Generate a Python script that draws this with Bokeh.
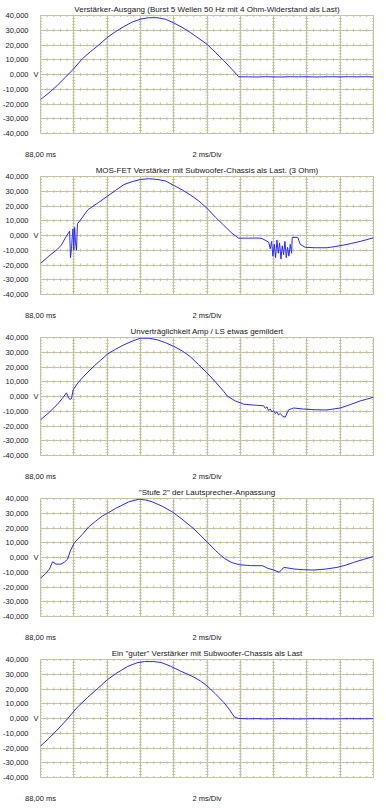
import math
from bokeh.plotting import figure
from bokeh.layouts import column
from bokeh.models import Range1d, FixedTicker, LinearAxis, Grid
from bokeh.embed import file_html
from bokeh.resources import INLINE

titles = [
    "Verstärker-Ausgang (Burst 5 Wellen 50 Hz mit 4 Ohm-Widerstand als Last)",
    "MOS-FET Verstärker mit Subwoofer-Chassis als Last. (3 Ohm)",
    "Unverträglichkeit Amp / LS etwas gemildert",
    "\"Stufe 2\" der Lautsprecher-Anpassung",
    "Ein \"guter\" Verstärker mit Subwoofer-Chassis als Last",
]

y_ticks = [-40000, -30000, -20000, -10000, 0, 10000, 20000, 30000, 40000]
y_tick_labels = ["-40,000", "-30,000", "-20,000", "-10,000", "0,000", "10,000", "20,000", "30,000", "40,000"]
x_grid = [88, 90, 92, 94, 96, 98, 100, 102, 104, 106, 108]
x_label_ticks = [88, 98]
x_label_texts = ["88,00 ms", "2 ms/Div"]
unit_tick = [0]
unit_label = "V"

# Panel 1
t1 = [88.0, 88.5, 89.0, 89.5, 90.0, 90.5, 91.0, 91.5, 92.0, 92.5, 93.0, 93.5, 94.0, 94.5,
      95.0, 95.5, 96.0, 96.5, 97.0, 97.5, 98.0, 98.5, 99.0, 99.5, 99.9,
      100.5, 101.0, 101.5, 102.0, 102.5, 103.0, 103.5, 104.0, 104.5, 105.0, 105.5,
      106.0, 106.5, 107.0, 107.5, 108.0]
v1 = [-17000, -12500, -7500, -1800, 4000, 10500, 15500, 20000, 25000, 29000, 32500, 35500, 37500, 38500,
      38500, 37500, 35000, 32000, 28500, 24500, 20500, 15000, 9500, 3500, -1500,
      -1600, -1700, -1500, -1600, -1700, -1500, -1600, -1500, -1700, -1600, -1500,
      -1600, -1500, -1600, -1500, -1600]

# Panel 2
t2 = [88.0, 88.5, 89.0, 89.25, 89.5, 89.75, 89.8, 89.86, 89.9, 89.95, 90.0, 90.05, 90.1, 90.16,
      90.22, 90.4, 90.85, 91.5, 92.0, 92.5, 93.0, 93.5, 94.0, 94.5, 95.0, 95.5, 96.0, 96.5,
      97.0, 97.5, 98.0, 98.5, 99.0, 99.5, 99.9, 100.5, 101.0, 101.3, 101.7, 101.8, 101.88,
      101.96, 102.04, 102.12, 102.2, 102.28, 102.36, 102.44, 102.52, 102.6, 102.68, 102.76,
      102.84, 102.92, 103.0, 103.08, 103.12, 103.45, 103.6, 103.9, 104.5, 105.2, 105.7,
      106.2, 106.7, 107.2, 107.6, 108.0]
v2 = [-19000, -14000, -9500, -6500, -1500, 3000, -15000, -9000, -2000, 4500, -10000, 5500, -4000, -10000,
      8000, 10500, 17500, 22500, 26500, 30500, 34500, 36500, 38000, 38500, 38000, 37000, 34000, 31000,
      27500, 23500, 18500, 12500, 7000, 1500, -1800, -1800, -1700, -2000, -4500, -9000, -4000,
      -14000, -6000, -15000, -3000, -12000, -5000, -16000, -7000, -13000, -4000, -15000,
      -8000, -14000, -6000, -12000, -1300, -1300, -6000, -8000, -8300, -8300, -7500,
      -6500, -5300, -4000, -2800, -1500]

# Panel 3
t3 = [88.0, 88.5, 89.0, 89.3, 89.56, 89.7, 89.76, 89.86, 89.96, 90.2, 90.46, 90.8, 91.25, 91.6,
      92.05, 92.5, 93.0, 93.5, 94.0, 94.5, 95.0, 95.5, 96.0, 96.5, 97.0, 97.5, 98.0, 98.5,
      99.0, 99.22, 99.7, 100.2, 100.8, 101.4, 101.5, 101.6, 101.7, 101.8, 101.9, 102.0, 102.1,
      102.2, 102.3, 102.4, 102.55, 102.7, 102.9, 103.2, 103.8, 104.5, 105.2, 106.0, 106.6,
      107.2, 107.6, 108.0]
v3 = [-15800, -11000, -5500, -1500, 2500, -1000, -2000, -1500, 4500, 8500, 12000, 16000, 21000, 24500,
      29000, 32000, 35000, 37500, 39500, 39500, 38500, 36500, 34000, 31000, 27000, 21500, 16000, 10000,
      3500, 300, -3000, -5200, -5800, -6300, -8000, -7000, -9500, -8500, -10500, -9500, -11500,
      -10500, -12500, -11500, -13500, -14000, -9100, -7800, -8500, -9000, -9100, -7800, -5500,
      -3000, -1800, -400]

# Panel 4
t4 = [88.0, 88.3, 88.54, 88.73, 88.93, 89.23, 89.45, 89.63, 89.79, 90.03, 90.5, 90.92, 91.3, 91.72,
      92.1, 92.51, 92.9, 93.31, 93.91, 94.3, 94.7, 95.3, 95.89, 96.5, 97.22, 97.96, 98.5, 99.05,
      99.5, 99.95, 100.6, 101.34, 101.64, 102.0, 102.34, 102.5, 102.63, 103.23, 103.8, 104.42,
      105.1, 105.81, 106.3, 106.81, 107.4, 108.0]
v4 = [-14000, -11000, -7800, -2900, -4500, -4500, -3000, -1100, 4400, 10000, 15500, 21000, 24500, 28200,
      30500, 33300, 35500, 37800, 39500, 39000, 37800, 34800, 31100, 26000, 19300, 11100, 4800, -700,
      -3500, -4900, -5500, -5600, -7300, -8500, -10000, -8000, -6700, -7800, -8300, -8500,
      -7900, -6700, -5300, -3300, -1300, 700]

# Panel 5
t5 = [88.0, 88.5, 89.0, 89.64, 90.2, 90.84, 91.4, 92.04, 92.6, 93.24, 93.8, 94.24, 94.8, 95.24,
      95.8, 96.44, 97.17, 97.6, 98.0, 98.5, 99.0, 99.35, 99.64, 99.9,
      100.5, 101.0, 101.5, 102.0, 102.5, 103.0, 103.5, 104.0, 104.5, 105.0, 105.5,
      106.0, 106.5, 107.0, 107.5, 108.0]
v5 = [-18700, -13500, -7800, 0, 7500, 14400, 20000, 26500, 31000, 35300, 37800, 38600, 38600, 38000,
      35500, 32000, 28300, 25500, 22100, 16800, 11000, 6000, 1100, 0,
      -200, -100, -300, -200, -100, -200, -300, -200, -100, -200, -300,
      -200, -100, -200, -200, -100]

series = [(t1, v1), (t2, v2), (t3, v3), (t4, v4), (t5, v5)]

GRID = "#c4c4a0"
LINE = "#2a2aff"
TEXT = "#202020"
FONT = "Liberation Sans"
FS = "7.5px"

# graticule sub-division marks (5 per division) along every grid line
sub_x = [x_grid[0] + i * (x_grid[1] - x_grid[0]) / 5 for i in range((len(x_grid) - 1) * 5 + 1)]
sub_y = [y_ticks[0] + i * (y_ticks[1] - y_ticks[0]) / 5 for i in range((len(y_ticks) - 1) * 5 + 1)]
hx = [x for y in y_ticks for x in sub_x]
hy = [y for y in y_ticks for x in sub_x]
vx = [x for x in x_grid for y in sub_y]
vy = [y for x in x_grid for y in sub_y]


def style_axis(ax, standoff):
    ax.axis_line_color = None
    ax.major_tick_line_color = None
    ax.minor_tick_line_color = None
    ax.major_tick_out = 0
    ax.major_tick_in = 0
    ax.minor_tick_out = 0
    ax.minor_tick_in = 0
    ax.major_label_standoff = standoff
    ax.major_label_text_font = FONT
    ax.major_label_text_font_size = FS
    ax.major_label_text_color = TEXT


figs = []
for title, (t, v) in zip(titles, series):
    p = figure(width=386, height=161, output_backend="svg", toolbar_location=None,
               x_range=Range1d(88, 108), y_range=Range1d(-40000, 40000),
               y_axis_location=None,
               min_border_left=39, min_border_right=13, min_border_top=15, min_border_bottom=25,
               background_fill_color="white", border_fill_color="white")
    p.title.text = title
    p.title.text_font = FONT
    p.title.text_font_size = "8px"
    p.title.text_font_style = "normal"
    p.title.text_color = TEXT
    p.title.align = "center"
    p.title.standoff = 4
    p.outline_line_color = GRID
    p.outline_line_width = 1

    p.xgrid.ticker = FixedTicker(ticks=x_grid)
    p.xgrid.grid_line_color = GRID
    p.add_layout(Grid(dimension=1, ticker=FixedTicker(ticks=y_ticks), grid_line_color=GRID))

    xa = p.xaxis[0]
    xa.ticker = FixedTicker(ticks=x_label_ticks)
    xa.major_label_overrides = dict(zip(x_label_ticks, x_label_texts))
    style_axis(xa, 16)

    # unit axis next to the frame, value axis outside of it
    ua = LinearAxis(ticker=FixedTicker(ticks=unit_tick),
                    major_label_overrides=dict(zip(unit_tick, [unit_label])))
    style_axis(ua, 2)
    p.add_layout(ua, "left")

    ya = LinearAxis(ticker=FixedTicker(ticks=y_ticks),
                    major_label_overrides=dict(zip(y_ticks, y_tick_labels)))
    style_axis(ya, 2)
    p.add_layout(ya, "left")

    p.scatter(hx, hy, marker="dash", angle=math.pi / 2, size=3, line_color=GRID, line_width=1)
    p.scatter(vx, vy, marker="dash", size=3, line_color=GRID, line_width=1)

    p.line(t, v, line_color=LINE, line_width=1)
    figs.append(p)

layout = column(*figs, spacing=0)
open("out.html", "w").write(file_html(layout, INLINE))
